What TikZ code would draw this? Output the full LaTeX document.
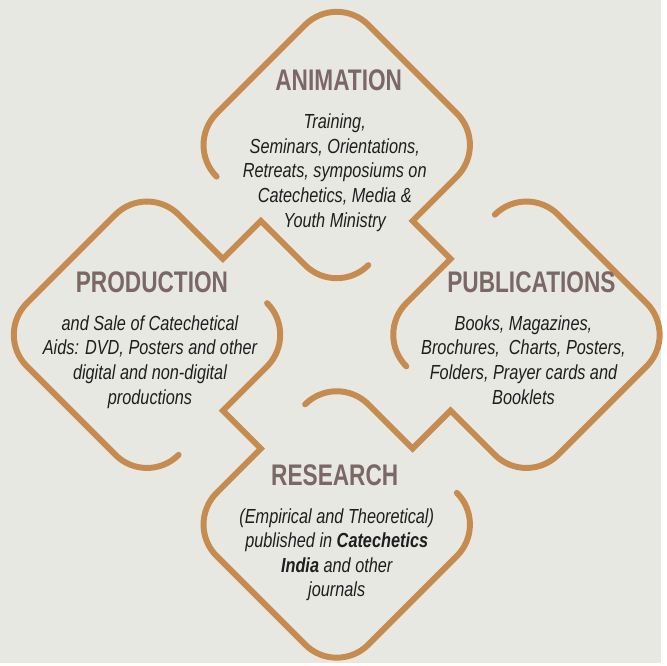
\documentclass[tikz,border=0pt]{standalone}
\usepackage{fontspec}
\setmainfont{Liberation Sans}[FakeStretch=0.76]
\newfontfamily\blurbfont{Liberation Sans}[FakeStretch=0.8]
\usetikzlibrary{positioning}
\definecolor{rope}{HTML}{C68B4E}
\definecolor{paper}{HTML}{E8E8E3}
\definecolor{titlegrey}{HTML}{7B6865}
\definecolor{inkgrey}{HTML}{1E1E1E}
\tikzset{
  ringline/.style={draw=rope, line width=6pt, line cap=round, line join=miter},
  heading/.style={font=\fontsize{30}{32}\selectfont\bfseries, text=titlegrey},
  blurb/.style={font=\blurbfont\fontsize{20.5}{24.8}\selectfont\itshape, text=inkgrey, align=center},
}

\begin{document}
\begin{tikzpicture}[x=1pt, y=1pt, node distance=16pt]
\fill[paper] (-339,337) rectangle (326,-330);
% one loop, turned by 90 degrees each time
\foreach \ang in {45,-45,-135,-225} {
  \begin{scope}[rotate=\ang]
    \draw[ringline] (-198.06,27.06) arc[start angle=-90, end angle=-180, radius=45]
      -- (-243.06,198.06) arc[start angle=180, end angle=90, radius=45]
      -- (-72.06,243.06) arc[start angle=90, end angle=0, radius=45]
      -- (-27.06,135.06) -- (27.06,135.06)
      -- (27.06,72.06) arc[start angle=180, end angle=270, radius=45];
  \end{scope}
}
\node[heading] (animtitle) at (2,256) {ANIMATION};
\node[blurb, below=of animtitle, xshift=-4pt] (animtext) {Training,\\ Seminars, Orientations,\\ Retreats, symposiums on\\ Catechetics, Media \&\\ Youth Ministry};
\node[heading] (prodtitle) at (-186,53) {PRODUCTION};
\node[blurb, below=of prodtitle, xshift=-2pt] (prodtext) {and Sale of Catechetical\\ Aids: DVD, Posters and other\\ digital and non-digital\\ productions};
\node[heading] (pubtitle) at (196,53) {PUBLICATIONS};
\node[blurb, below=of pubtitle, xshift=-8pt] (pubtext) {Books, Magazines,\\ Brochures,~ Charts, Posters,\\ Folders, Prayer cards and\\ Booklets};
\node[heading] (restitle) at (-2,-141) {RESEARCH};
\node[blurb, below=of restitle, xshift=2pt] (restext) {(Empirical and Theoretical)\\ published in \textbf{Catechetics}\\ \textbf{India} and other\\ journals};
\end{tikzpicture}
\end{document}
